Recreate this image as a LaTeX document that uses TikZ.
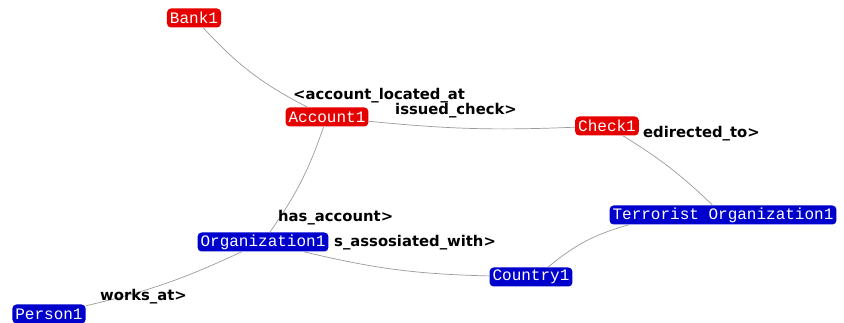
\documentclass[tikz,border=0pt]{standalone}
\usepackage{fontspec}
\usepackage{tikz}
\newfontfamily\entityfont{Liberation Mono}
\newfontfamily\relfont{DejaVu Sans}
\definecolor{entred}{HTML}{E60000}
\definecolor{entblue}{HTML}{0000CC}
\definecolor{linkgray}{HTML}{9A9A9A}
\usetikzlibrary{shapes,arrows,positioning}

\begin{document}
\begin{tikzpicture}[
    x=1pt, y=1pt,
    entity/.style={rounded corners=4pt, text=white, inner xsep=3pt, inner ysep=1pt,
      minimum height=19pt, font=\entityfont\fontsize{16}{16}\selectfont},
    redent/.style={entity, fill=entred},
    blueent/.style={entity, fill=entblue},
    link/.style={draw=linkgray, line width=0.7pt},
    rel/.style={anchor=base west, inner sep=0pt, font=\relfont\bfseries\fontsize{14.8}{14.8}\selectfont}
    ]
  \useasboundingbox (0,0) rectangle (844,-323);
  % entities
  \node [redent] (bank1) at (194,-18) {Bank1};
  \node [redent] (account1) at (327,-117) {Account1};
  \node [redent] (check1) at (607,-126) {Check1};
  \node [blueent] (terrorist1) at (723,-215) {Terrorist Organization1};
  \node [blueent] (organization1) at (263,-242) {Organization1};
  \node [blueent] (country1) at (531,-277) {Country1};
  \node [blueent] (person1) at (49,-314) {Person1};
  % links
  \draw [link] (bank1) to[bend right=10] (account1);
  \draw [link] (account1) to[bend right=4] (check1);
  \draw [link] (account1) to[bend left=8] (organization1);
  \draw [link] (check1) to[bend left=6] (terrorist1);
  \draw [link] (terrorist1) to[bend right=12] (country1);
  \draw [link] (organization1) to[bend right=6] (country1);
  \draw [link] (organization1) to[bend left=6] (person1);
  % relation labels
  \node [rel] (located) at (293,-100) {<account\_located\_at};
  \node [rel] (issued) at (395,-115) {issued\_check>};
  \node [rel] (redirected) at (643,-138) {edirected\_to>};
  \node [rel] (hasacc) at (278,-222) {has\_account>};
  \node [rel] (assoc) at (334,-247) {s\_assosiated\_with>};
  \node [rel] (works) at (100,-301) {works\_at>};
\end{tikzpicture}
\end{document}
